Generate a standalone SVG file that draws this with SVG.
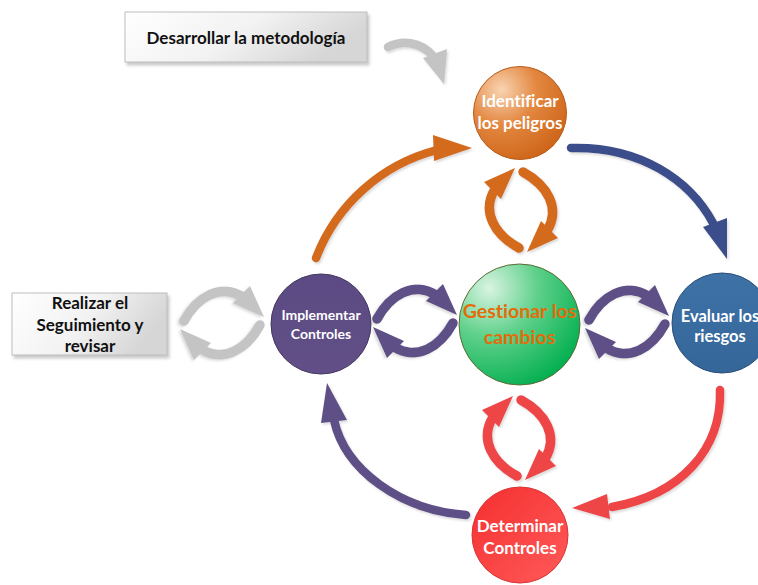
<svg xmlns="http://www.w3.org/2000/svg" xmlns:xlink="http://www.w3.org/1999/xlink" width="758" height="585" viewBox="0 0 758 585">
  <style>
    .box { stroke: #BDBDBD; stroke-width: 1; fill: url(#boxFill); filter: url(#shadow); }
    .boxText { font-family: Lato, "Liberation Sans", sans-serif; font-weight: bold; font-size: 17px; fill: #111; text-anchor: middle; font-variant-ligatures: none; }
    .nodeText { font-family: Lato, "Liberation Sans", sans-serif; font-weight: bold; fill: #fff; text-anchor: middle; font-variant-ligatures: none; }
    .shaft { fill: none; stroke-width: 8.5; stroke-linecap: round; }
    .soft { filter: url(#arrowShadow); }
  </style>
  <defs>
    <linearGradient id="boxFill" x1="0" y1="0" x2="1" y2="0.3">
      <stop offset="0" stop-color="#FFFFFF"/>
      <stop offset="0.55" stop-color="#F2F2F2"/>
      <stop offset="1" stop-color="#D6D6D6"/>
    </linearGradient>
    <radialGradient id="orangeFill" cx="0.3" cy="0.25" r="0.85">
      <stop offset="0" stop-color="#F9D4B2"/>
      <stop offset="0.45" stop-color="#E38740"/>
      <stop offset="1" stop-color="#CC6216"/>
    </radialGradient>
    <radialGradient id="greenFill" cx="0.25" cy="0.2" r="0.9">
      <stop offset="0" stop-color="#D9F4E2"/>
      <stop offset="0.45" stop-color="#5ED08A"/>
      <stop offset="1" stop-color="#00AE4E"/>
    </radialGradient>
    <linearGradient id="purpleFill" x1="0" y1="0" x2="0" y2="1">
      <stop offset="0" stop-color="#5B4A83"/>
      <stop offset="1" stop-color="#624F88"/>
    </linearGradient>
    <linearGradient id="blueFill" x1="0" y1="0" x2="0" y2="1">
      <stop offset="0" stop-color="#3E72A6"/>
      <stop offset="1" stop-color="#35669A"/>
    </linearGradient>
    <linearGradient id="redFill" x1="0" y1="0" x2="1" y2="1">
      <stop offset="0" stop-color="#F52F2F"/>
      <stop offset="1" stop-color="#FF5A5A"/>
    </linearGradient>
    <filter id="shadow" x="-10%" y="-10%" width="130%" height="140%">
      <feDropShadow dx="2" dy="3" stdDeviation="1.5" flood-color="#8A8A8A" flood-opacity="0.45"/>
    </filter>
    <filter id="arrowShadow" x="-10%" y="-10%" width="130%" height="130%">
      <feDropShadow dx="1.5" dy="2" stdDeviation="1" flood-color="#9A9A9A" flood-opacity="0.35"/>
    </filter>
    <!-- pair of opposing curved arrows, drawn vertically around (0,0); coloured by currentColor -->
    <g id="cycle">
      <path d="M-2,38 C-26,25 -40,2 -26,-21" fill="none" stroke="currentColor" stroke-width="9.5" stroke-linecap="round"/>
      <polygon points="-37,-28 -6,-42 -20,-11" fill="currentColor"/>
      <path d="M2,-38 C26,-25 40,-2 26,21" fill="none" stroke="currentColor" stroke-width="9.5" stroke-linecap="round"/>
      <polygon points="37,28 6,42 20,11" fill="currentColor"/>
    </g>
  </defs>

  <rect width="758" height="585" fill="#FFFFFF"/>

  <g id="connectors">
    <!-- from the methodology box into the cycle -->
    <g class="soft" style="color:#C4C4C4">
      <path class="shaft" stroke="currentColor" d="M388,47 C402,40 420,41 433,56"/>
      <polygon points="423,58 447,49 444,84" fill="currentColor"/>
    </g>
    <!-- outer ring -->
    <g class="soft" style="color:#D46B1C">
      <path class="shaft" stroke="currentColor" d="M316,258 A177,177 0 0 1 437,150"/>
      <polygon points="433,135 472,148 434,161" fill="currentColor"/>
    </g>
    <g class="soft" style="color:#3B4E8A">
      <path class="shaft" stroke="currentColor" d="M571,148 C640,146 690,180 713,223"/>
      <polygon points="703,227 727,218 727,259" fill="currentColor"/>
    </g>
    <g class="soft" style="color:#EE4447">
      <path class="shaft" stroke="currentColor" d="M720,390 C722,450 680,495 612,507"/>
      <polygon points="607,494 572,508 610,519" fill="currentColor"/>
    </g>
    <g class="soft" style="color:#5E4F87">
      <path class="shaft" stroke="currentColor" d="M466,515 C400,510 345,470 334,420"/>
      <polygon points="321,423 327,383 347,420" fill="currentColor"/>
    </g>
    <!-- two-way exchanges with the central node -->
    <use xlink:href="#cycle" class="soft" style="color:#D46B1C" transform="translate(521,210)"/>
    <use xlink:href="#cycle" class="soft" style="color:#EE4447" transform="translate(519,438)"/>
    <use xlink:href="#cycle" class="soft" style="color:#5E4F87" transform="translate(415,321) rotate(90)"/>
    <use xlink:href="#cycle" class="soft" style="color:#5E4F87" transform="translate(627,322) rotate(90)"/>
    <use xlink:href="#cycle" class="soft" style="color:#C4C4C4" transform="translate(222,323) rotate(90)"/>
  </g>

  <g id="desarrollar">
    <rect class="box" x="125" y="12" width="242" height="50"/>
    <text class="boxText" x="246" y="44">Desarrollar la metodología</text>
  </g>

  <g id="realizar">
    <rect class="box" x="12" y="293" width="155" height="62"/>
    <text class="boxText" x="90" y="309">Realizar el</text>
    <text class="boxText" x="90" y="331">Seguimiento y</text>
    <text class="boxText" x="90" y="352">revisar</text>
  </g>

  <g id="identificar">
    <circle cx="520" cy="113" r="46.5" fill="url(#orangeFill)" stroke="#B85C1A" stroke-width="1"/>
    <text class="nodeText" x="520" y="107" font-size="17">Identificar</text>
    <text class="nodeText" x="520" y="129" font-size="17">los peligros</text>
  </g>

  <g id="gestionar">
    <circle cx="519.5" cy="324.5" r="60.5" fill="url(#greenFill)" stroke="#5E6B35" stroke-width="1"/>
    <text class="nodeText" x="519.5" y="318" font-size="19.5" style="fill:#E46C0A">Gestionar los</text>
    <text class="nodeText" x="519.5" y="344" font-size="19.5" style="fill:#E46C0A">cambios</text>
  </g>

  <g id="implementar">
    <circle cx="321" cy="324" r="50" fill="url(#purpleFill)" stroke="#45385F" stroke-width="1"/>
    <text class="nodeText" x="321" y="320" font-size="14">Implementar</text>
    <text class="nodeText" x="321" y="339" font-size="14">Controles</text>
  </g>

  <g id="evaluar">
    <circle cx="722" cy="323" r="50" fill="url(#blueFill)" stroke="#2B4E78" stroke-width="1"/>
    <text class="nodeText" x="720" y="322" font-size="16.5">Evaluar los</text>
    <text class="nodeText" x="720" y="342" font-size="16.5">riesgos</text>
  </g>

  <g id="determinar">
    <circle cx="520" cy="535" r="48" fill="url(#redFill)" stroke="#D83434" stroke-width="1"/>
    <text class="nodeText" x="520" y="532" font-size="17">Determinar</text>
    <text class="nodeText" x="520" y="554" font-size="17">Controles</text>
  </g>
</svg>
